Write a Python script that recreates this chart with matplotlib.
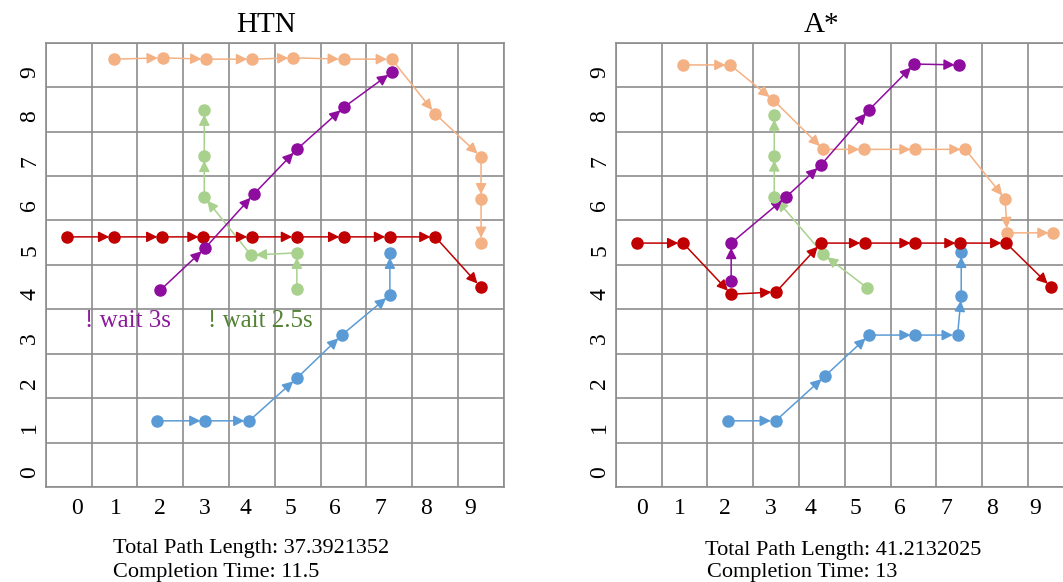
import matplotlib.pyplot as plt
from matplotlib.transforms import ScaledTranslation

plt.rcParams['font.family'] = ['Liberation Serif', 'DejaVu Serif']

# path colours
ORANGE = '#F4B183'
RED = '#C00000'
PURPLE = '#8E0C9E'
GREEN = '#A9D18E'
BLUE = '#5B9BD5'
GRID = '#8c8c8c'

# ---- HTN paths ----
htn_orange_x = [1.0, 2.05, 3.0, 4.0, 4.9, 6.0, 7.05, 8.0, 9.0, 9.0, 9.0]
htn_orange_y = [9.13, 9.16, 9.13, 9.13, 9.16, 9.13, 9.13, 7.9, 6.93, 5.98, 5.0]
htn_red_x = [-0.03, 0.99, 2.04, 2.94, 4.0, 4.98, 6.01, 7.01, 8.0, 8.99]
htn_red_y = [5.13, 5.13, 5.13, 5.13, 5.13, 5.13, 5.13, 5.13, 5.13, 4.0]
htn_purple_x = [2.0, 2.98, 4.04, 4.98, 6.01, 7.06]
htn_purple_y = [3.93, 4.88, 6.09, 7.1, 8.05, 8.84]
htn_green_x = [4.98, 4.98, 3.98, 2.96, 2.96, 2.96]
htn_green_y = [3.96, 4.77, 4.72, 6.03, 6.95, 7.99]
htn_blue_x = [1.93, 2.98, 3.94, 4.98, 5.96, 7.01, 7.01]
htn_blue_y = [0.99, 0.99, 0.99, 1.95, 2.92, 3.82, 4.77]

# ---- A* paths ----
astar_orange_x = [0.97, 2.0, 2.94, 4.03, 4.92, 6.04, 7.13, 8.0, 8.04, 9.05]
astar_orange_y = [9.0, 9.0, 8.21, 7.1, 7.1, 7.1, 7.1, 5.98, 5.22, 5.22]
astar_red_x = [-0.03, 0.97, 2.02, 3.0, 3.98, 4.94, 6.04, 7.02, 8.02, 9.0]
astar_red_y = [4.99, 4.99, 3.84, 3.89, 4.99, 4.99, 4.99, 4.99, 4.99, 4.0]
astar_purple_x = [2.02, 2.02, 3.22, 3.98, 5.03, 6.02, 7.0]
astar_purple_y = [4.14, 4.99, 6.03, 6.75, 7.99, 9.02, 9.0]
astar_green_x = [4.99, 4.03, 2.96, 2.96, 2.96]
astar_green_y = [3.98, 4.74, 6.03, 6.96, 7.88]
astar_blue_x = [1.96, 2.99, 4.07, 5.03, 6.04, 6.96, 7.04, 7.04]
astar_blue_y = [0.99, 0.99, 2.0, 2.92, 2.92, 2.92, 3.8, 4.79]

tick_labels = ['0', '1', '2', '3', '4', '5', '6', '7', '8', '9']
htn_xtick_pos = [0.18, 1.03, 2.0, 2.97, 3.85, 4.83, 5.81, 6.81, 7.79, 8.77]
astar_xtick_pos = [0.07, 0.9, 1.89, 2.89, 3.76, 4.74, 5.71, 6.71, 7.71, 8.65]


def draw_path(ax, xs, ys, color):
    for i in range(len(xs) - 1):
        ax.annotate('', xy=(xs[i + 1], ys[i + 1]), xytext=(xs[i], ys[i]),
                    arrowprops=dict(arrowstyle='-|>', color=color, lw=1.1,
                                    shrinkA=0, shrinkB=3.4, mutation_scale=16),
                    zorder=3)
    ax.plot(xs, ys, 'o', color=color, markersize=8, zorder=4)


def setup_grid(ax, xtick_pos):
    ax.set_xlim(-0.5, 9.5)
    ax.set_ylim(-0.5, 9.5)
    ax.set_xticks([i - 0.5 for i in range(11)], minor=True)
    ax.set_yticks([i - 0.5 for i in range(11)], minor=True)
    ax.grid(True, which='minor', color=GRID, lw=1.2)
    ax.set_xticks(xtick_pos)
    ax.set_xticklabels(tick_labels, fontsize=17)
    ax.set_yticks(range(10))
    ax.set_yticklabels(tick_labels, fontsize=17, rotation=90, va='center')
    ax.tick_params(which='both', length=0)
    ax.tick_params(axis='x', pad=8)
    ax.tick_params(axis='y', pad=4)
    for lab in ax.get_yticklabels():
        lab.set_transform(lab.get_transform() +
                          ScaledTranslation(0, -7 / 100, ax.figure.dpi_scale_trans))
    for s in ax.spines.values():
        s.set_color(GRID)
        s.set_linewidth(1.2)
    ax.set_axisbelow(True)


fig = plt.figure(figsize=(10.63, 5.82), dpi=100)
ax1 = fig.add_axes([0.043, 0.1632, 0.4311, 0.7634])
ax2 = fig.add_axes([0.5792, 0.1632, 0.4311, 0.7634])

setup_grid(ax1, htn_xtick_pos)
setup_grid(ax2, astar_xtick_pos)

draw_path(ax1, htn_orange_x, htn_orange_y, ORANGE)
draw_path(ax1, htn_green_x, htn_green_y, GREEN)
draw_path(ax1, htn_blue_x, htn_blue_y, BLUE)
draw_path(ax1, htn_red_x, htn_red_y, RED)
draw_path(ax1, htn_purple_x, htn_purple_y, PURPLE)

draw_path(ax2, astar_orange_x, astar_orange_y, ORANGE)
draw_path(ax2, astar_green_x, astar_green_y, GREEN)
draw_path(ax2, astar_blue_x, astar_blue_y, BLUE)
draw_path(ax2, astar_red_x, astar_red_y, RED)
draw_path(ax2, astar_purple_x, astar_purple_y, PURPLE)

ax1.text(1.3, 3.24, '! wait 3s', color='#8B1A9A', fontsize=18,
         ha='center', va='center', zorder=5)
ax1.text(4.18, 3.24, '! wait 2.5s', color='#548235', fontsize=18,
         ha='center', va='center', zorder=5)

fig.text(266 / 1063, 1 - 25 / 582, 'HTN', fontsize=21, ha='center', va='center')
fig.text(822 / 1063, 1 - 25 / 582, 'A*', fontsize=21, ha='center', va='center')

fig.text(113 / 1063, 1 - 549 / 582, 'Total Path Length: 37.3921352',
         fontsize=16, ha='left', va='center')
fig.text(113 / 1063, 1 - 573 / 582, 'Completion Time: 11.5',
         fontsize=16, ha='left', va='center')
fig.text(705 / 1063, 1 - 550 / 582, 'Total Path Length: 41.2132025',
         fontsize=16, ha='left', va='center')
fig.text(707 / 1063, 1 - 573 / 582, 'Completion Time: 13',
         fontsize=16, ha='left', va='center')

fig.savefig('out.png', dpi=100)
